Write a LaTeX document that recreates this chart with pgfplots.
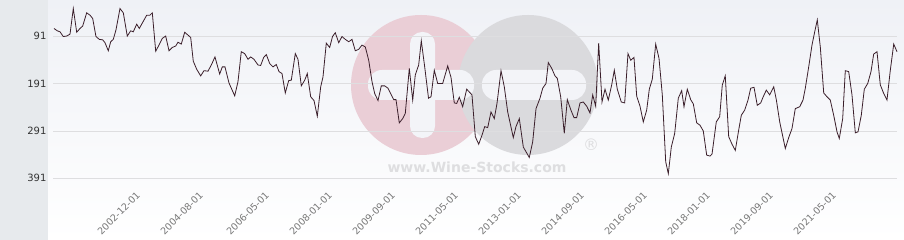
\documentclass[border=0pt]{standalone}
\usepackage{fontspec}
\setmainfont{DejaVu Sans}
\usepackage{pgfplots}
\pgfplotsset{compat=1.18}
\definecolor{panel}{RGB}{231,234,237}
\definecolor{bgtop}{RGB}{239,241,246}
\definecolor{gridc}{RGB}{222,222,224}
\definecolor{linec}{RGB}{58,30,42}
\definecolor{wmpink}{RGB}{234,206,214}
\definecolor{wmgray}{RGB}{218,218,221}
\definecolor{wmbar}{RGB}{243,244,248}
\definecolor{wmtext}{RGB}{222,222,224}
\definecolor{xlab}{RGB}{120,120,120}
\definecolor{ylab}{RGB}{51,51,51}
\begin{document}
\begin{tikzpicture}
\useasboundingbox (0pt,0pt) rectangle (904pt,240pt);
\fill[panel] (0pt,0pt) rectangle (48pt,240pt);
\shade[top color=bgtop, bottom color=white] (48pt,0pt) rectangle (904pt,240pt);
% watermark
\fill[wmpink] (421pt,155pt) circle (70pt);
\fill[wmgray] (528pt,155pt) circle (70pt);
\fill[wmbar, rounded corners=12pt] (410pt,102pt) rectangle (435pt,208pt);
\fill[wmbar, rounded corners=14pt] (368pt,140pt) rectangle (474pt,170pt);
\fill[wmbar, rounded corners=14pt] (482pt,140pt) rectangle (586pt,170pt);
\node[font=\bfseries\fontsize{14}{14}\selectfont, text=wmtext] at (477pt,73pt) {www.Wine-Stocks.com};
\node[font=\fontsize{16}{16}\selectfont, text=wmtext] at (591pt,95pt) {®};
\begin{axis}[
  at={(53pt,55pt)}, anchor=south west,
  scale only axis, width=844pt, height=185pt,
  xmin=2000.695, xmax=2023.023,
  ymin=15, ymax=405, y dir=reverse,
  axis line style={draw=none},
  major tick length=0pt,
  ytick={91,191,291,391},
  ymajorgrids,
  grid style={gridc, line width=0.8pt},
  xtick={2002.917,2004.583,2006.333,2008,2009.667,2011.333,2013,2014.667,2016.333,2018,2019.667,2021.333},
  xticklabels={2002-12-01,2004-08-01,2006-05-01,2008-01-01,2009-09-01,2011-05-01,2013-01-01,2014-09-01,2016-05-01,2018-01-01,2019-09-01,2021-05-01},
  xticklabel style={rotate=45, anchor=north east, font=\fontsize{9.5}{9.5}\selectfont, text=xlab, xshift=-2pt},
  yticklabel style={font=\fontsize{10}{10}\selectfont, text=ylab, anchor=east, xshift=-3pt},
  /pgf/number format/assume math mode=true,
  clip=false,
]
\addplot[linec, line width=0.8pt, mark=none] coordinates {
(2000.721,75) (2000.809,80) (2000.880,82) (2000.967,92) (2001.057,91) (2001.145,87) (2001.232,33) (2001.322,83) (2001.409,75) (2001.480,70)
(2001.586,42) (2001.674,47) (2001.745,54) (2001.832,92) (2001.920,98) (2002.010,99) (2002.070,105) (2002.158,122) (2002.221,103) (2002.290,98)
(2002.361,78) (2002.467,33) (2002.555,42) (2002.660,91) (2002.750,80) (2002.819,82) (2002.909,66) (2002.978,75) (2003.174,47) (2003.261,47)
(2003.322,42) (2003.412,123) (2003.499,110) (2003.586,96) (2003.676,91) (2003.764,122) (2003.851,115) (2003.941,112) (2004.002,104) (2004.089,108)
(2004.179,83) (2004.266,89) (2004.338,94) (2004.406,144) (2004.496,161) (2004.602,175) (2004.689,164) (2004.795,165) (2004.883,152) (2004.980,135)
(2005.105,171) (2005.174,156) (2005.245,156) (2005.351,190) (2005.502,217) (2005.589,187) (2005.676,124) (2005.766,128) (2005.854,140) (2005.925,135)
(2006.012,140) (2006.118,152) (2006.189,153) (2006.269,136) (2006.338,130) (2006.428,149) (2006.515,156) (2006.602,151) (2006.674,166) (2006.753,170)
(2006.840,211) (2006.930,185) (2006.999,184) (2007.105,128) (2007.176,140) (2007.264,196) (2007.354,184) (2007.422,170) (2007.512,219) (2007.600,227)
(2007.687,260) (2007.777,198) (2007.838,177) (2007.925,106) (2008.015,115) (2008.089,92) (2008.163,84) (2008.253,105) (2008.340,92) (2008.428,98)
(2008.518,103) (2008.605,98) (2008.692,122) (2008.782,119) (2008.869,110) (2008.957,114) (2009.047,142) (2009.134,187) (2009.205,212) (2009.293,227)
(2009.380,196) (2009.470,196) (2009.557,201) (2009.645,215) (2009.708,225) (2009.769,225) (2009.856,274) (2009.946,265) (2010.015,254) (2010.121,159)
(2010.211,226) (2010.279,173) (2010.369,152) (2010.438,101) (2010.528,156) (2010.629,222) (2010.695,219) (2010.782,163) (2010.872,191) (2011.004,191)
(2011.137,154) (2011.224,178) (2011.311,232) (2011.375,233) (2011.443,220) (2011.533,240) (2011.639,203) (2011.779,215) (2011.867,303) (2011.957,319)
(2012.044,300) (2012.115,282) (2012.195,284) (2012.282,251) (2012.369,265) (2012.441,233) (2012.547,164) (2012.634,198) (2012.724,251) (2012.872,305)
(2012.943,282) (2013.031,265) (2013.137,325) (2013.295,347) (2013.385,314) (2013.473,244) (2013.578,222) (2013.650,201) (2013.737,191) (2013.798,147)
(2013.888,159) (2013.975,175) (2014.036,180) (2014.126,219) (2014.221,296) (2014.301,225) (2014.391,246) (2014.478,263) (2014.549,263) (2014.637,232)
(2014.724,230) (2014.814,239) (2014.901,253) (2014.973,215) (2015.052,239) (2015.131,106) (2015.219,230) (2015.298,203) (2015.385,226) (2015.475,194)
(2015.544,163) (2015.623,203) (2015.729,230) (2015.819,232) (2015.906,128) (2015.978,142) (2016.065,136) (2016.137,218) (2016.224,239) (2016.311,272)
(2016.401,247) (2016.470,203) (2016.549,182) (2016.639,108) (2016.727,138) (2016.814,215) (2016.904,356) (2016.973,381) (2017.052,325) (2017.142,296)
(2017.237,222) (2017.327,206) (2017.388,240) (2017.475,203) (2017.565,225) (2017.634,234) (2017.724,274) (2017.811,279) (2017.898,291) (2017.988,342)
(2018.076,344) (2018.129,340) (2018.242,272) (2018.332,261) (2018.401,194) (2018.480,175) (2018.570,303) (2018.658,319) (2018.745,332) (2018.835,289)
(2018.904,258) (2018.994,247) (2019.081,226) (2019.152,201) (2019.240,199) (2019.327,237) (2019.417,232) (2019.478,220) (2019.565,205) (2019.655,215)
(2019.761,198) (2019.830,225) (2019.920,272) (2020.068,328) (2020.158,305) (2020.245,286) (2020.332,244) (2020.449,240) (2020.536,226) (2020.597,201)
(2020.687,156) (2020.774,110) (2020.846,82) (2020.914,57) (2020.994,114) (2021.084,211) (2021.171,219) (2021.258,226) (2021.348,258) (2021.436,293)
(2021.496,307) (2021.586,265) (2021.655,164) (2021.745,166) (2021.832,215) (2021.920,295) (2021.991,293) (2022.078,258) (2022.158,203) (2022.248,191)
(2022.335,166) (2022.406,129) (2022.494,124) (2022.581,194) (2022.671,212) (2022.758,226) (2022.846,163) (2022.936,108) (2023.023,124)
};
\end{axis}
\end{tikzpicture}
\end{document}
